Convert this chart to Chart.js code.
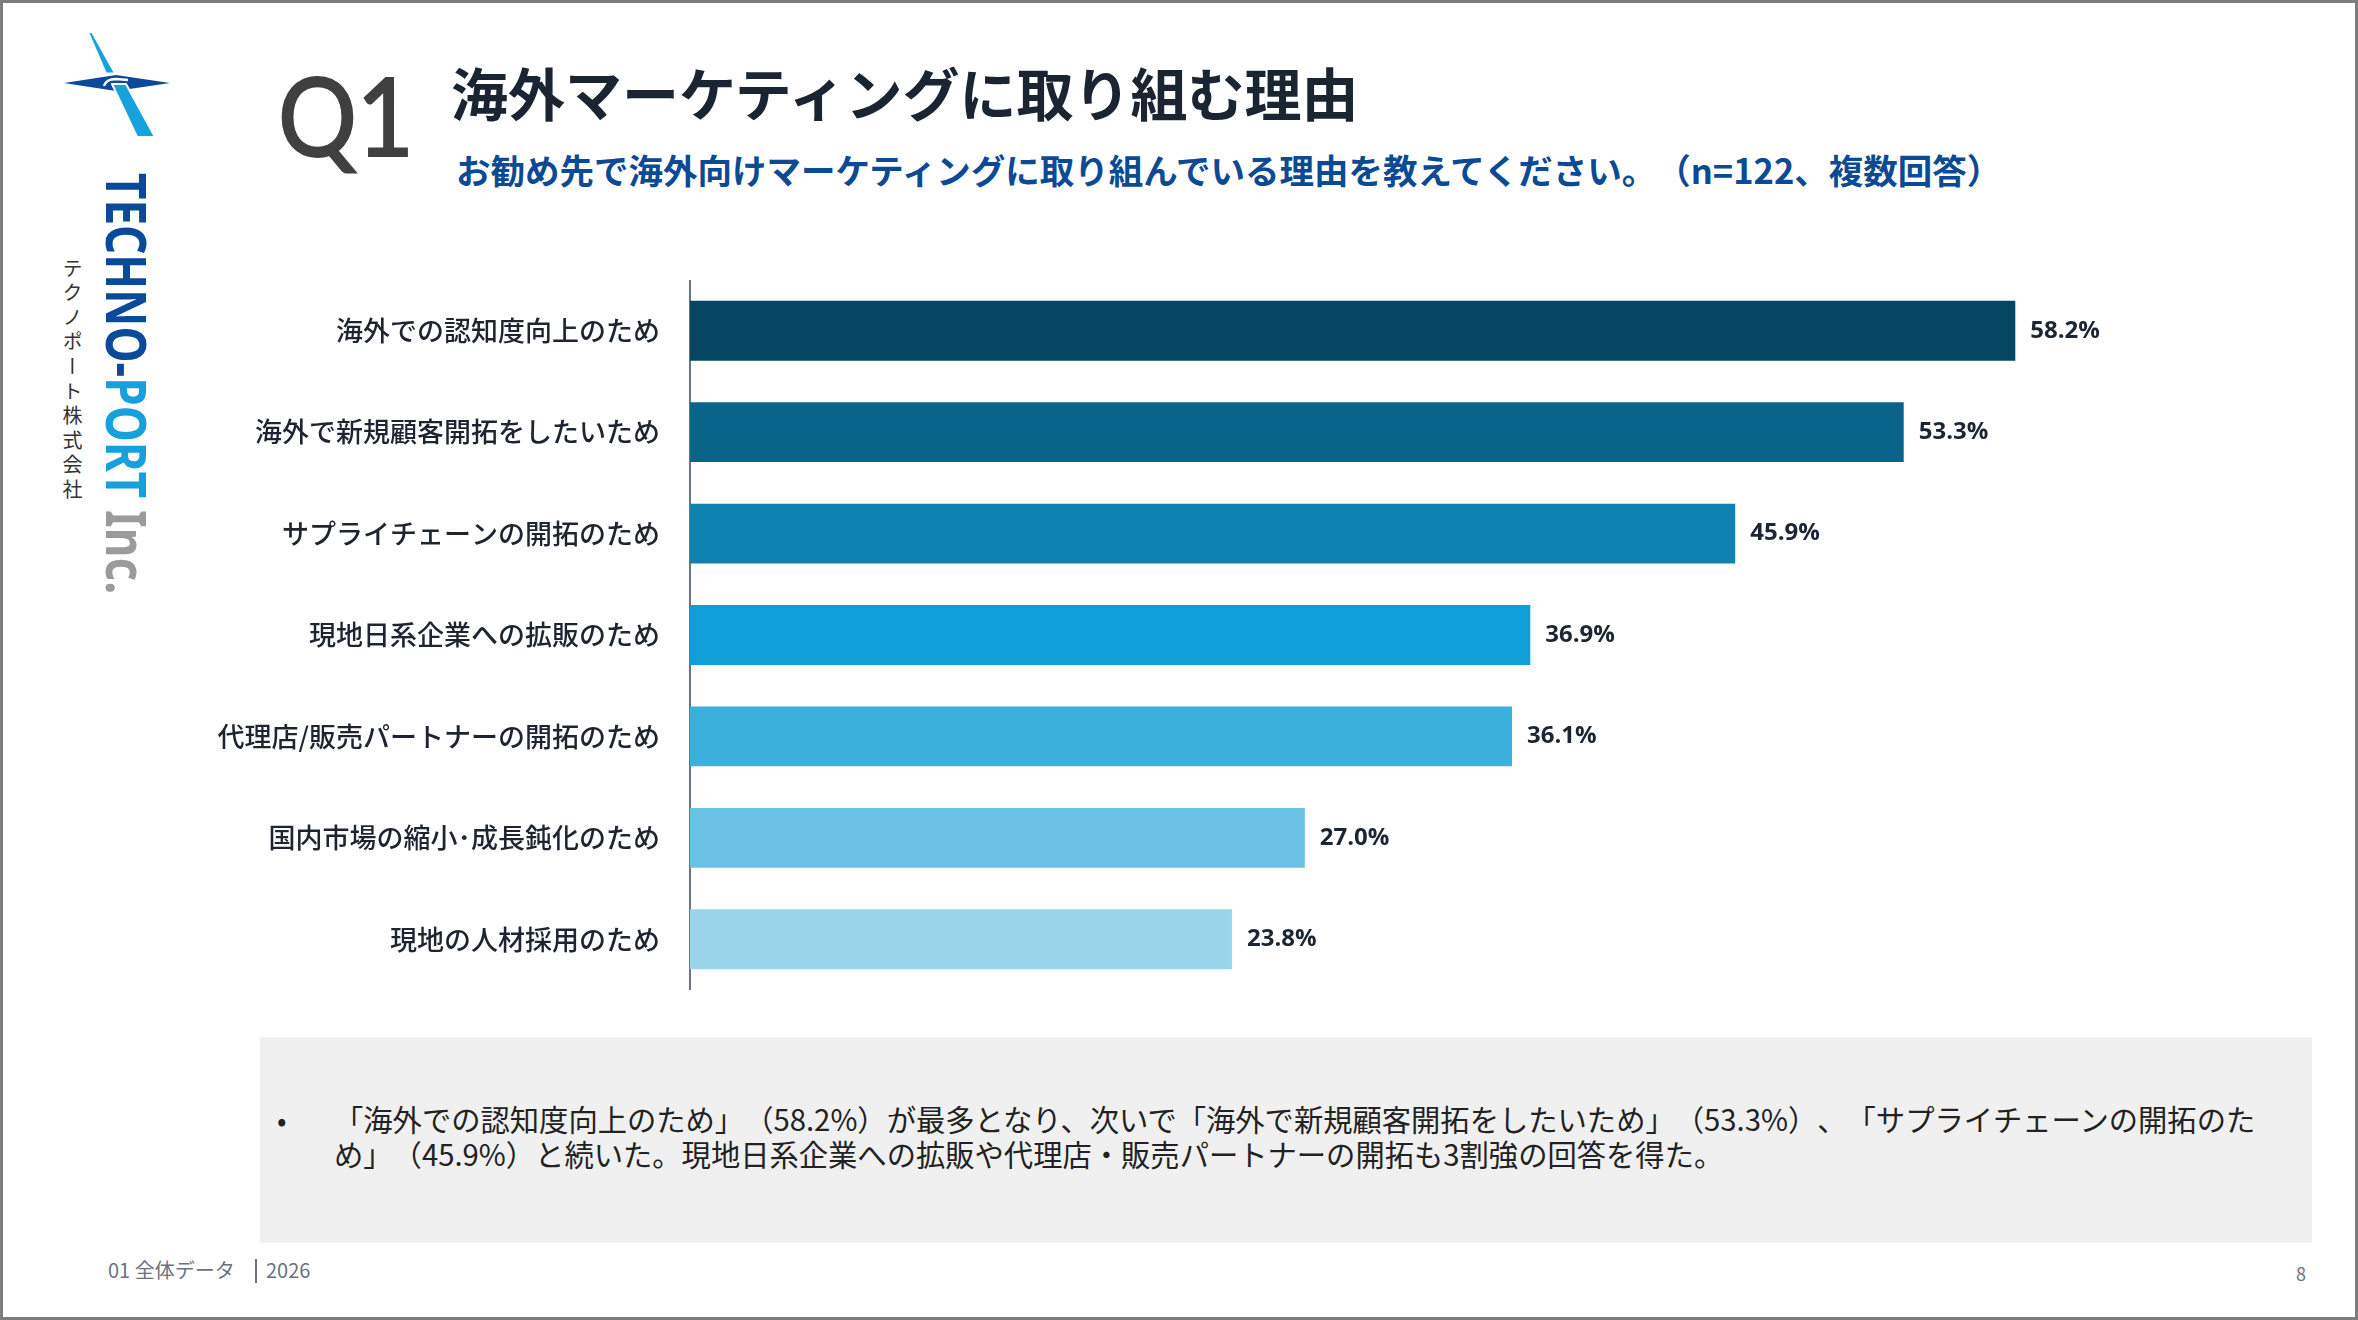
<!DOCTYPE html>
<html lang="ja">
<head>
<meta charset="utf-8">
<script src="https://cdn.jsdelivr.net/npm/chart.js@4.4.1/dist/chart.umd.min.js"></script>
<style>
  html, body { margin:0; padding:0; background:#fff; }
  body { width:2358px; height:1320px; position:relative; overflow:hidden; font-family:"Noto Sans CJK JP","Noto Sans",sans-serif; text-spacing-trim:space-all; }
  svg text { text-spacing-trim:space-all; }
  #frame { position:absolute; left:0; top:0; width:2358px; height:1320px; box-sizing:border-box; border:3px solid #7d7d7d; pointer-events:none; z-index:5; }
  #overlay { position:absolute; left:0; top:0; width:2358px; height:1320px; }
  #box { position:absolute; left:260px; top:1037px; width:2052px; height:206px; background:#f0f0f0; }
  #chartWrap { position:absolute; left:0; top:280px; width:2358px; height:710px; }
  #jpv { position:absolute; left:62px; top:258px; writing-mode:vertical-rl; font-size:20px; letter-spacing:4.6px; color:#333; line-height:1; }
</style>
</head>
<body>
<div id="box"></div>
<svg id="overlay" width="2358" height="1320" viewBox="0 0 2358 1320" xmlns="http://www.w3.org/2000/svg">
  <!-- logo mark -->
  <polygon points="64,83 116,75 170,83 116,91" fill="#0b4a9b"/>
  <polygon points="89.5,33 91.5,33 113.5,72.5 106.5,72.5" fill="#16a3dd"/>
  <polygon points="112,84 126,84 155,137 137,137" fill="#16a3dd" stroke="#ffffff" stroke-width="2" stroke-linejoin="round"/>
  <path d="M104,86 Q106,79 116,79 L128,80" fill="none" stroke="#ffffff" stroke-width="2.5"/>
  <!-- logo text -->
  <text transform="translate(106,173) rotate(90)" font-family="Noto Sans, sans-serif" font-weight="700" font-size="56" textLength="421" lengthAdjust="spacingAndGlyphs"><tspan fill="#0b4a9b">TECHNO-</tspan><tspan fill="#16a0dc">PORT</tspan><tspan fill="#9b9b9b"> Inc.</tspan></text>
  <!-- Q1 -->
  <text x="278" y="156" font-family="Lato, Noto Sans, sans-serif" font-size="108" fill="#404040" stroke="#404040" stroke-width="2.2" textLength="136" lengthAdjust="spacingAndGlyphs">Q1</text>
  <!-- title -->
  <text x="451" y="116" font-family="Noto Sans CJK JP" font-weight="700" font-size="57" fill="#1b2431">海外マーケティングに取り組む理由</text>
  <text x="456" y="184" font-family="Noto Sans CJK JP" font-weight="700" font-size="34.5" fill="#0d4a94">お勧め先で海外向けマーケティングに取り組んでいる理由を教えてください。（n=122、複数回答）</text>
  <!-- summary box text -->
  <text x="277" y="1131" font-family="Noto Sans CJK JP" font-size="28" fill="#222">•</text>
  <text x="334" y="1131" font-family="Noto Sans CJK JP" font-size="29.3" fill="#222">「海外での認知度向上のため」（58.2%）が最多となり、次いで「海外で新規顧客開拓をしたいため」（53.3%）、「サプライチェーンの開拓のた</text>
  <text x="334" y="1166" font-family="Noto Sans CJK JP" font-size="29.3" fill="#222">め」（45.9%）と続いた。現地日系企業への拡販や代理店・販売パートナーの開拓も3割強の回答を得た。</text>
  <!-- footer -->
  <text x="108" y="1278" font-family="Noto Sans CJK JP" font-size="20" fill="#6b7280">01 全体データ</text>
  <rect x="255" y="1259" width="2" height="24" fill="#6b7280"/>
  <text x="266" y="1278" font-family="Noto Sans CJK JP" font-size="20" fill="#6b7280">2026</text>
  <text x="2296" y="1281" font-family="Noto Sans CJK JP" font-size="18" fill="#6b7280">8</text>
</svg>
<div id="jpv">テクノポート株式会社</div>
<div id="chartWrap"><canvas id="c"></canvas></div>
<div id="frame"></div>
<script>
const categories = [
  "海外での認知度向上のため",
  "海外で新規顧客開拓をしたいため",
  "サプライチェーンの開拓のため",
  "現地日系企業への拡販のため",
  "代理店/販売パートナーの開拓のため",
  "国内市場の縮小･成長鈍化のため",
  "現地の人材採用のため"
];
const values = [58.2, 53.3, 45.9, 36.9, 36.1, 27.0, 23.8];
const barColors = ["#064663", "#0a6389", "#0e82b1", "#0f9ed6", "#3cb0dc", "#69c2e3", "#99d4ea"];

const valueLabels = {
  id: "valueLabels",
  afterDatasetsDraw(chart) {
    const ctx = chart.ctx;
    const meta = chart.getDatasetMeta(0);
    ctx.save();
    ctx.font = "700 24px 'Open Sans', 'Noto Sans', sans-serif";
    ctx.fillStyle = "#1c2633";
    ctx.textAlign = "left";
    ctx.textBaseline = "middle";
    meta.data.forEach((bar, i) => {
      ctx.fillText(values[i].toFixed(1) + "%", bar.x + 15, bar.y);
    });
    ctx.restore();
  }
};

new Chart(document.getElementById("c"), {
  type: "bar",
  data: {
    labels: categories,
    datasets: [{
      data: values,
      backgroundColor: barColors,
      borderWidth: 0,
      barPercentage: 0.59,
      categoryPercentage: 1.0
    }]
  },
  options: {
    indexAxis: "y",
    responsive: true,
    maintainAspectRatio: false,
    animation: false,
    devicePixelRatio: 1,
    layout: { padding: { left: 0, right: 74, top: 0, bottom: 0 } },
    plugins: { legend: { display: false }, tooltip: { enabled: false } },
    scales: {
      x: { display: false, min: 0, max: 70 },
      y: {
        grid: { display: false, drawTicks: false },
        border: { display: true, color: "#6b7480", width: 2 },
        ticks: {
          color: "#1f2530",
          padding: 30,
          font: { family: "'Noto Sans CJK JP', sans-serif", size: 27, weight: "500" }
        },
        afterFit(scale) {
          scale.width = 690;
          scale.paddingTop = 0;
          scale.paddingBottom = 0;
        }
      }
    }
  },
  plugins: [valueLabels]
});
</script>
</body>
</html>
